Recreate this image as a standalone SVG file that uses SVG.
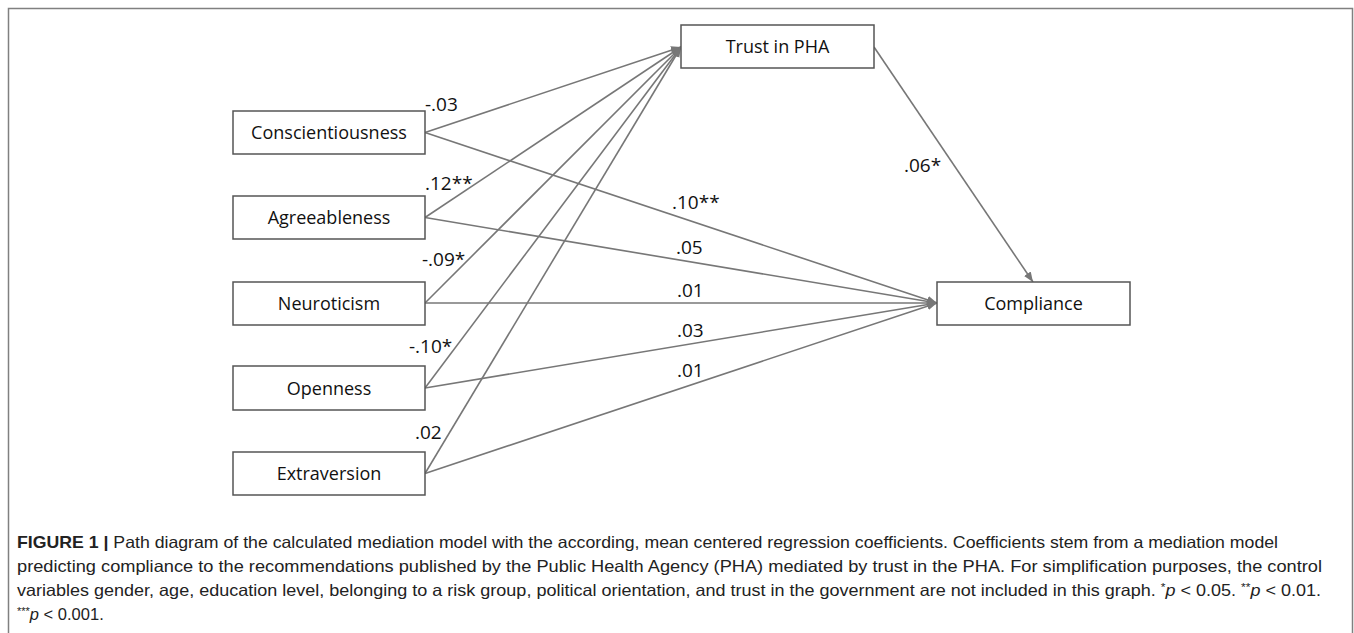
<svg xmlns="http://www.w3.org/2000/svg" width="1354" height="633" viewBox="0 0 1354 633">
<style>
.box{fill:#fff;stroke:#555;stroke-width:1.5}
.nt{font-family:"Open Sans","Noto Sans",sans-serif;font-size:18px;fill:#111;text-anchor:middle}
.lab{font-family:"Open Sans","Noto Sans",sans-serif;font-size:19px;fill:#111}
.edge{stroke:#777;stroke-width:1.6;fill:none;marker-end:url(#ah)}
.cap{font-family:"Liberation Sans",Arial,sans-serif;font-size:16.5px;fill:#222}
</style>
<defs>
<marker id="ah" markerUnits="userSpaceOnUse" markerWidth="12" markerHeight="10" refX="10" refY="4" orient="auto">
<path d="M0,0 L10,4 L0,8 Z" fill="#777"/>
</marker>
</defs>
<rect width="1354" height="633" fill="#fff"/>
<path d="M8.5,633 V8.5 H1352.5 V633" fill="none" stroke="#808080" stroke-width="1.5"/>
<g id="connectors">
<line class="edge" x1="425" y1="132.5" x2="681" y2="47"/>
<line class="edge" x1="425" y1="217.5" x2="681" y2="47"/>
<line class="edge" x1="425" y1="303" x2="681" y2="47"/>
<line class="edge" x1="425" y1="388" x2="681" y2="47"/>
<line class="edge" x1="425" y1="473.5" x2="681" y2="47"/>
<line class="edge" x1="425" y1="132.5" x2="937" y2="303"/>
<line class="edge" x1="425" y1="217.5" x2="937" y2="303"/>
<line class="edge" x1="425" y1="303" x2="937" y2="303"/>
<line class="edge" x1="425" y1="388" x2="937" y2="303"/>
<line class="edge" x1="425" y1="473.5" x2="937" y2="303"/>
<line class="edge" x1="874" y1="47" x2="1033" y2="282"/>
</g>
<g id="labels">
<text class="lab" x="425" y="111">-.03</text>
<text class="lab" x="425" y="190">.12**</text>
<text class="lab" x="422" y="266">-.09*</text>
<text class="lab" x="409" y="353">-.10*</text>
<text class="lab" x="415" y="439">.02</text>
<text class="lab" x="672" y="209">.10**</text>
<text class="lab" x="676" y="254">.05</text>
<text class="lab" x="677" y="297">.01</text>
<text class="lab" x="677" y="337">.03</text>
<text class="lab" x="677" y="377">.01</text>
<text class="lab" x="904" y="172">.06*</text>
</g>
<g id="conscientiousness"><rect class="box" x="233" y="111" width="192" height="43"/><text class="nt" x="329" y="139">Conscientiousness</text></g>
<g id="agreeableness"><rect class="box" x="233" y="196" width="192" height="43"/><text class="nt" x="329" y="224">Agreeableness</text></g>
<g id="neuroticism"><rect class="box" x="233" y="282" width="192" height="43"/><text class="nt" x="329" y="310">Neuroticism</text></g>
<g id="openness"><rect class="box" x="233" y="366" width="192" height="44"/><text class="nt" x="329" y="395">Openness</text></g>
<g id="extraversion"><rect class="box" x="233" y="452" width="192" height="43"/><text class="nt" x="329" y="480">Extraversion</text></g>
<g id="trust"><rect class="box" x="681" y="25" width="193" height="43"/><text class="nt" x="777.5" y="53">Trust in PHA</text></g>
<g id="compliance"><rect class="box" x="937" y="282" width="193" height="43"/><text class="nt" x="1033.5" y="310">Compliance</text></g>
<g id="caption">
<text class="cap" x="17" y="548" textLength="1261" lengthAdjust="spacingAndGlyphs"><tspan font-weight="bold">FIGURE 1 |</tspan> Path diagram of the calculated mediation model with the according, mean centered regression coefficients. Coefficients stem from a mediation model</text>
<text class="cap" x="17" y="572" textLength="1305" lengthAdjust="spacingAndGlyphs">predicting compliance to the recommendations published by the Public Health Agency (PHA) mediated by trust in the PHA. For simplification purposes, the control</text>
<text class="cap" x="17" y="596" textLength="1304" lengthAdjust="spacingAndGlyphs">variables gender, age, education level, belonging to a risk group, political orientation, and trust in the government are not included in this graph. <tspan font-size="11" dy="-5">*</tspan><tspan font-style="italic" dy="5">p</tspan> &lt; 0.05. <tspan font-size="11" dy="-5">**</tspan><tspan font-style="italic" dy="5">p</tspan> &lt; 0.01.</text>
<text class="cap" x="17" y="620"><tspan font-size="11" dy="-5">***</tspan><tspan font-style="italic" dy="5">p</tspan> &lt; 0.001.</text>
</g>
</svg>
